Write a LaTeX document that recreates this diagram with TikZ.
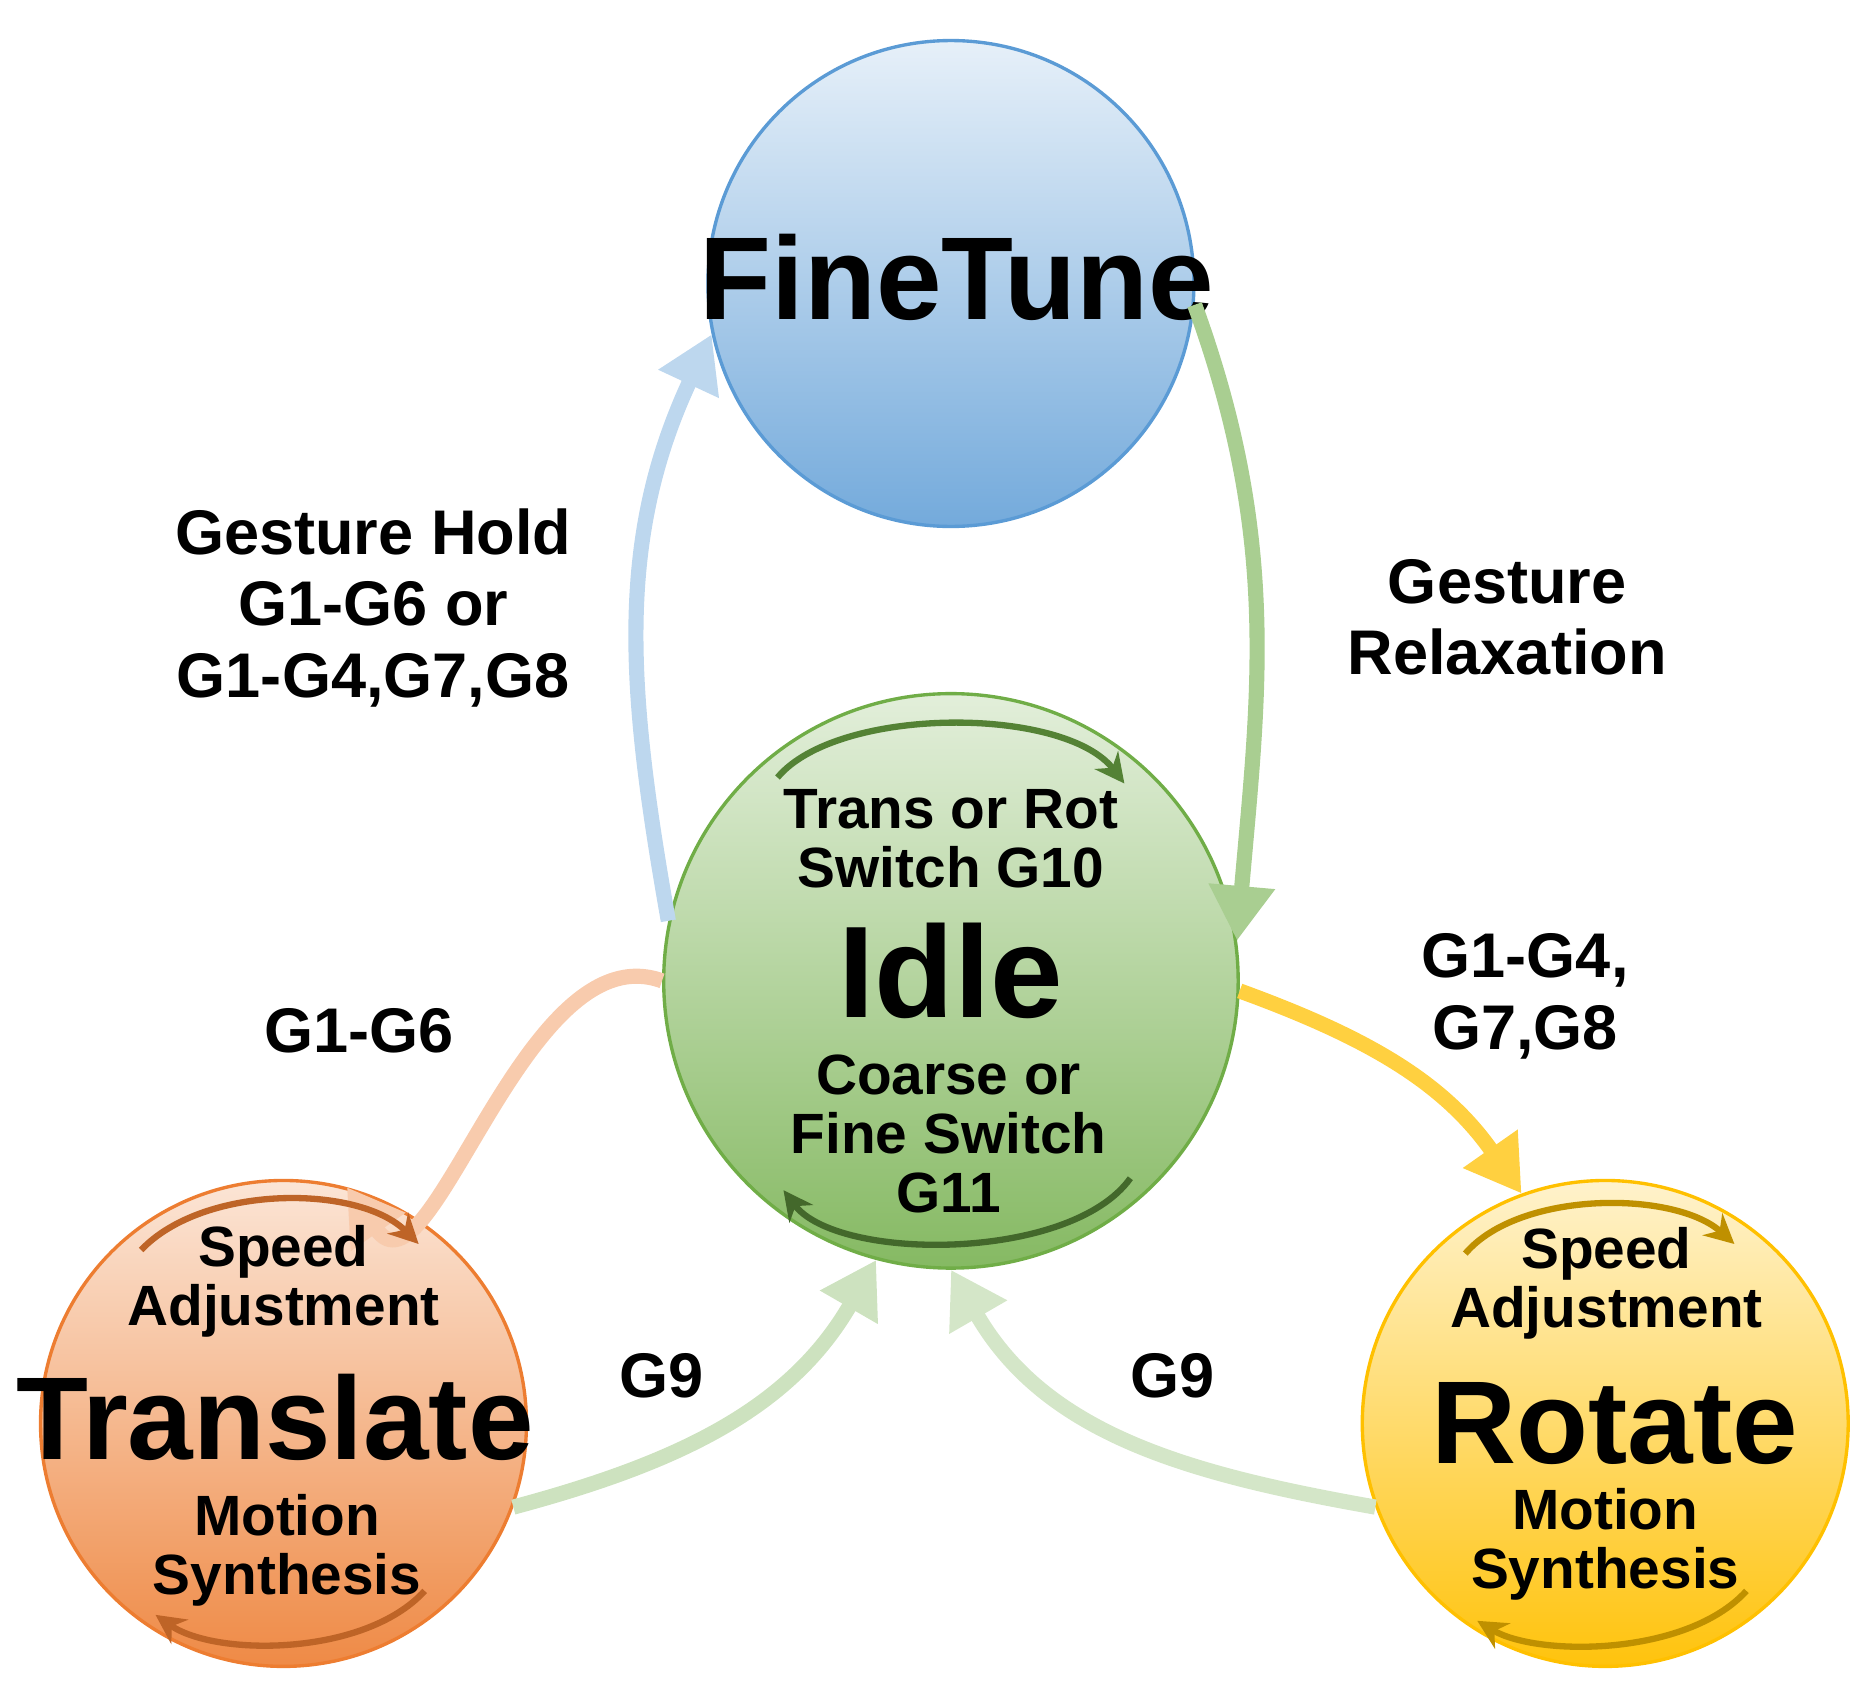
\documentclass[tikz,border=0pt]{standalone}
\usepackage{fontspec}
\setmainfont{Liberation Sans}
\usetikzlibrary{arrows.meta}
\definecolor{ftB}{HTML}{5B9BD5}
\definecolor{idB}{HTML}{70AD47}
\definecolor{trB}{HTML}{ED7D31}
\definecolor{roB}{HTML}{FFC000}
\tikzset{
 state/.style={circle,draw,line width=0.8pt,inner sep=0pt,minimum size=4.06cm},
 big/.style={font=\bfseries\fontsize{28}{32}\selectfont},
 lab/.style={font=\bfseries\fontsize{15}{18}\selectfont,align=center},
 inn/.style={font=\bfseries\fontsize{13.5}{16}\selectfont,align=center},
 flow/.style={line width=3.6pt,-{Triangle[length=13pt,width=15pt]}},
 turn/.style={line width=1.5pt,-{Stealth[length=7pt,width=7pt]}}
}
\begin{document}
\begin{tikzpicture}[x=0.01cm,y=-0.01cm]
\useasboundingbox (0,0) rectangle (1560,1414);
\node[state,draw=ftB,top color=ftB!15,bottom color=ftB!85] (ft) at (795,237) {};
\node[state,minimum size=4.8cm,draw=idB,top color=idB!20,bottom color=idB!85] (idle) at (795,820) {};
\node[state,draw=trB,top color=trB!20,bottom color=trB!90] (tr) at (237,1190) {};
\node[state,draw=roB,top color=roB!20,bottom color=roB!95] (ro) at (1342,1190) {};

\node[big] at (800,232) {FineTune};
\node[big,font=\bfseries\fontsize{31}{34}\selectfont] at (795,812) {Idle};
\node[big] at (230,1185) {Translate};
\node[big] at (1350,1190) {Rotate};

% flows
\draw[flow,color=ftB!40] (idle.168) to[out=100,in=-115] (ft.192);
\draw[flow,color=idB!60] (ft.-5) to[out=-70,in=85] (idle.8);
\draw[flow,color=trB!40] (idle.180) to[out=160,in=-55] (tr.75);
\draw[flow,color=roB!75] (idle.-2) to[out=-20,in=125] (ro.110);
\draw[flow,color=idB!35] (tr.-20) to[out=15,in=-120] (idle.-105);
\draw[flow,color=idB!30] (ro.-160) to[out=170,in=-60] (idle.-90);

% turn arcs
\draw[turn,color=idB!75!black] (650,650) .. controls (700,590) and (890,590) .. (940,655);
\draw[turn,color=idB!60!black] (945,985) .. controls (895,1055) and (700,1055) .. (655,995);
\draw[turn,color=trB!80!black] (118,1045) .. controls (170,990) and (300,990) .. (350,1040);
\draw[turn,color=trB!80!black] (355,1330) .. controls (305,1385) and (180,1385) .. (130,1350);
\draw[turn,color=roB!75!black] (1225,1048) .. controls (1270,995) and (1400,995) .. (1450,1040);
\draw[turn,color=roB!75!black] (1460,1330) .. controls (1410,1385) and (1285,1385) .. (1235,1355);

% labels
\node[lab] at (312,508) {Gesture Hold\\[-1pt]G1-G6 or\\[-1pt]G1-G4,G7,G8};
\node[lab] at (1260,516) {Gesture\\[-1pt]Relaxation};
\node[lab] at (300,862) {G1-G6};
\node[lab] at (1275,833) {G1-G4,\\[-1pt]G7,G8};
\node[lab] at (553,1150) {G9};
\node[lab] at (980,1150) {G9};

\node[inn] at (795,701) {Trans or Rot\\[-2pt]Switch G10};
\node[inn] at (793,948) {Coarse or\\[-2pt]Fine Switch\\[-2pt]G11};
\node[inn] at (237,1071) {Speed\\[-2pt]Adjustment};
\node[inn] at (240,1296) {Motion\\[-2pt]Synthesis};
\node[inn] at (1343,1073) {Speed\\[-2pt]Adjustment};
\node[inn] at (1342,1291) {Motion\\[-2pt]Synthesis};
\end{tikzpicture}
\end{document}
